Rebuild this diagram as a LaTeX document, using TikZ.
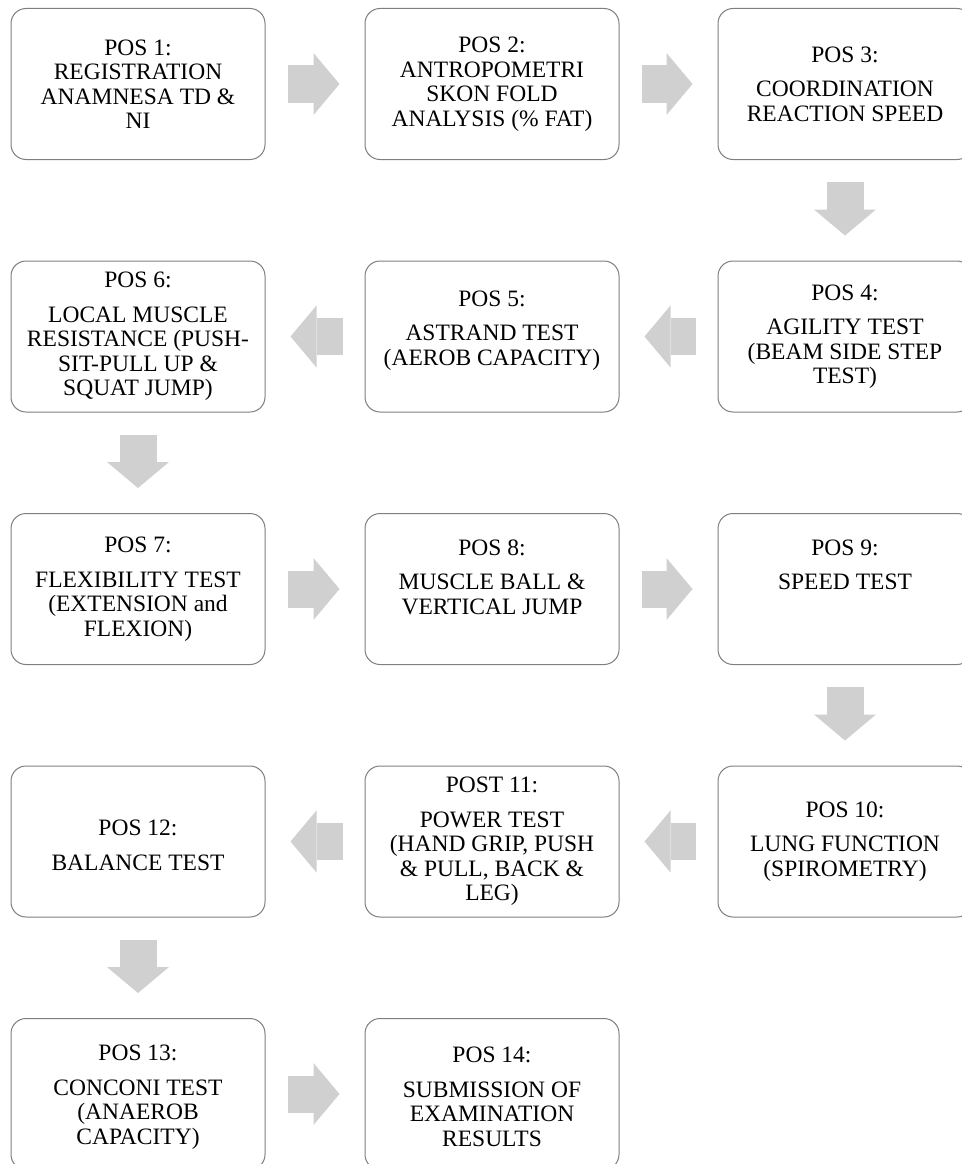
\documentclass[tikz,border=0pt]{standalone}
\usepackage{fontspec}
\setmainfont{Liberation Serif}
\usepackage{xcolor}
\usetikzlibrary{positioning, arrows.meta}

\definecolor{boxgray}{HTML}{7F7F7F}
\definecolor{arrowgray}{HTML}{D0D0D0}

\begin{document}
\begin{tikzpicture}[x=1pt, y=-1pt,
    posbox/.style={draw=boxgray, line width=1pt, rounded corners=15pt, fill=white, minimum width=254pt, minimum height=151pt, inner sep=0pt},
    postext/.style={align=center, inner sep=0pt, font=\fontsize{23.5}{24.5}\selectfont},
    flow/.style={line width=37pt, draw=arrowgray, -{Triangle[length=26pt, width=62pt, line width=0pt]}, shorten <=22pt, shorten >=25pt}]
      \useasboundingbox (0, 0) rectangle (961, 1164);

      % boxes
      \node[posbox] (b1) at (138, 84) {};
      \node[posbox] (b2) at (492, 84) {};
      \node[posbox] (b3) at (845, 84) {};
      \node[posbox] (b4) at (845, 336.5) {};
      \node[posbox] (b5) at (492, 336.5) {};
      \node[posbox] (b6) at (138, 336.5) {};
      \node[posbox] (b7) at (138, 589) {};
      \node[posbox] (b8) at (492, 589) {};
      \node[posbox] (b9) at (845, 589) {};
      \node[posbox] (b10) at (845, 841.5) {};
      \node[posbox] (b11) at (492, 841.5) {};
      \node[posbox] (b12) at (138, 841.5) {};
      \node[posbox] (b13) at (138, 1094) {};
      \node[posbox] (b14) at (492, 1094) {};

      % texts
      \node[postext] (t1) at (b1) {POS 1:\\REGISTRATION\\ANAMNESA TD \&\\NI};
      \node[postext] (t2) at (b2) {POS 2:\\ANTROPOMETRI\\SKON FOLD\\ANALYSIS (\% FAT)};
      \node[postext] (t3) at (b3) {POS 3:\\[10pt]COORDINATION\\REACTION SPEED};
      \node[postext] (t4) at (b4) {POS 4:\\[10pt]AGILITY TEST\\(BEAM SIDE STEP\\TEST)};
      \node[postext, yshift=6pt] (t5) at (b5) {POS 5:\\[10pt]ASTRAND TEST\\(AEROB CAPACITY)};
      \node[postext] (t6) at (b6) {POS 6:\\[10pt]LOCAL MUSCLE\\RESISTANCE (PUSH-\\SIT-PULL UP \&\\SQUAT JUMP)};
      \node[postext] (t7) at (b7) {POS 7:\\[10pt]FLEXIBILITY TEST\\(EXTENSION and\\FLEXION)};
      \node[postext, yshift=12pt] (t8) at (b8) {POS 8:\\[10pt]MUSCLE BALL \&\\VERTICAL JUMP};
      \node[postext, yshift=24pt] (t9) at (b9) {POS 9:\\[10pt]SPEED TEST};
      \node[postext] (t10) at (b10) {POS 10:\\[10pt]LUNG FUNCTION\\(SPIROMETRY)};
      \node[postext] (t11) at (b11) {POST 11:\\[10pt]POWER TEST\\(HAND GRIP, PUSH\\\& PULL, BACK \&\\LEG)};
      \node[postext, yshift=-4pt] (t12) at (b12) {POS 12:\\[10pt]BALANCE TEST};
      \node[postext, yshift=-3pt] (t13) at (b13) {POS 13:\\[10pt]CONCONI TEST\\(ANAEROB\\CAPACITY)};
      \node[postext, yshift=-3pt] (t14) at (b14) {POS 14:\\[10pt]SUBMISSION OF\\EXAMINATION\\RESULTS};

      % arrows
      \draw[flow] (b1) -- (b2);
      \draw[flow] (b2) -- (b3);
      \draw[flow] (b3) -- (b4);
      \draw[flow] (b4) -- (b5);
      \draw[flow] (b5) -- (b6);
      \draw[flow] (b6) -- (b7);
      \draw[flow] (b7) -- (b8);
      \draw[flow] (b8) -- (b9);
      \draw[flow] (b9) -- (b10);
      \draw[flow] (b10) -- (b11);
      \draw[flow] (b11) -- (b12);
      \draw[flow] (b12) -- (b13);
      \draw[flow] (b13) -- (b14);
    \end{tikzpicture}
\end{document}
